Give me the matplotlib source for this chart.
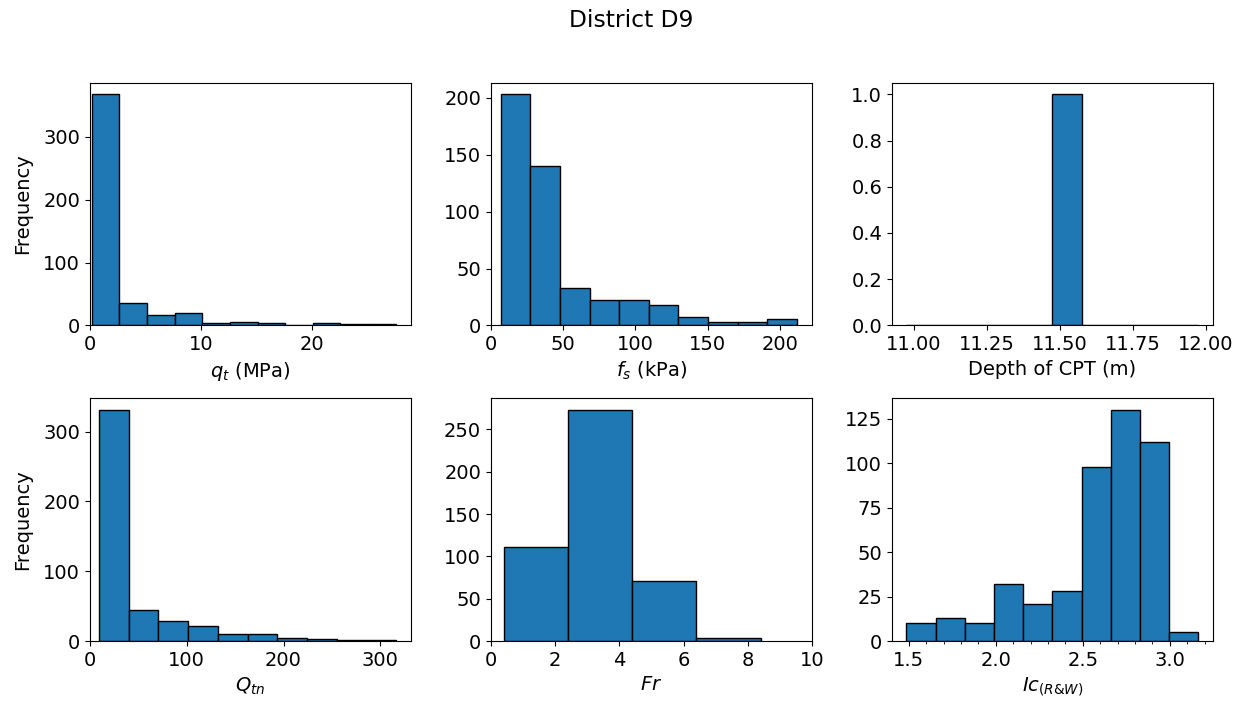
import numpy as np
import matplotlib
matplotlib.use("Agg")
import matplotlib.pyplot as plt
from matplotlib.ticker import AutoMinorLocator

plt.rcParams["font.size"] = 14

# Histogram data per variable: bin range, number of bins and counts per bin
qt_range = (0.15, 27.6)
qt_counts = [368, 35, 17, 20, 4, 6, 4, 1, 4, 2, 2]

fs_range = (6.7, 212.0)
fs_counts = [203, 140, 33, 22, 22, 18, 7, 3, 3, 6]

depth_range = (10.975, 11.975)
depth_counts = [0, 0, 0, 0, 0, 1, 0, 0, 0, 0]

qtn_range = (9.3, 316.3)
qtn_counts = [331, 45, 28, 21, 10, 10, 5, 3, 1, 1]

fr_range = (0.4, 8.4)
fr_counts = [111, 273, 71, 3]

ic_range = (1.487, 3.164)
ic_counts = [10, 13, 10, 32, 21, 28, 98, 130, 112, 5]

x_labels = [r"$q_t$ (MPa)", r"$f_s$ (kPa)", "Depth of CPT (m)",
            r"$Q_{tn}$", r"$Fr$", r"$Ic_{(R&W)}$"]
title = "District D9"

panels = [
    (qt_range, qt_counts),
    (fs_range, fs_counts),
    (depth_range, depth_counts),
    (qtn_range, qtn_counts),
    (fr_range, fr_counts),
    (ic_range, ic_counts),
]

fig, axes = plt.subplots(2, 3, figsize=(12.44, 7.07), dpi=100)
fig.subplots_adjust(left=0.0723, right=0.975, bottom=0.0933, top=0.883,
                    wspace=0.249, hspace=0.30)

for ax, (rng, counts), xl in zip(axes.flat, panels, x_labels):
    edges = np.linspace(rng[0], rng[1], len(counts) + 1)
    centers = 0.5 * (edges[:-1] + edges[1:])
    ax.hist(centers, bins=edges, weights=counts,
            color="#1f77b4", edgecolor="black")
    ax.set_xlabel(xl)

# x-axis limits
axes[0, 0].set_xlim(left=0)
axes[0, 1].set_xlim(left=0)
axes[1, 0].set_xlim(left=0)
axes[1, 1].set_xlim(0, 10)
axes[1, 2].xaxis.set_minor_locator(AutoMinorLocator())

axes[0, 0].set_ylabel("Frequency", labelpad=8)
axes[1, 0].set_ylabel("Frequency", labelpad=8)

fig.suptitle(title, fontsize="large", x=0.507, y=0.987)
fig.savefig("out.png", dpi=100)
